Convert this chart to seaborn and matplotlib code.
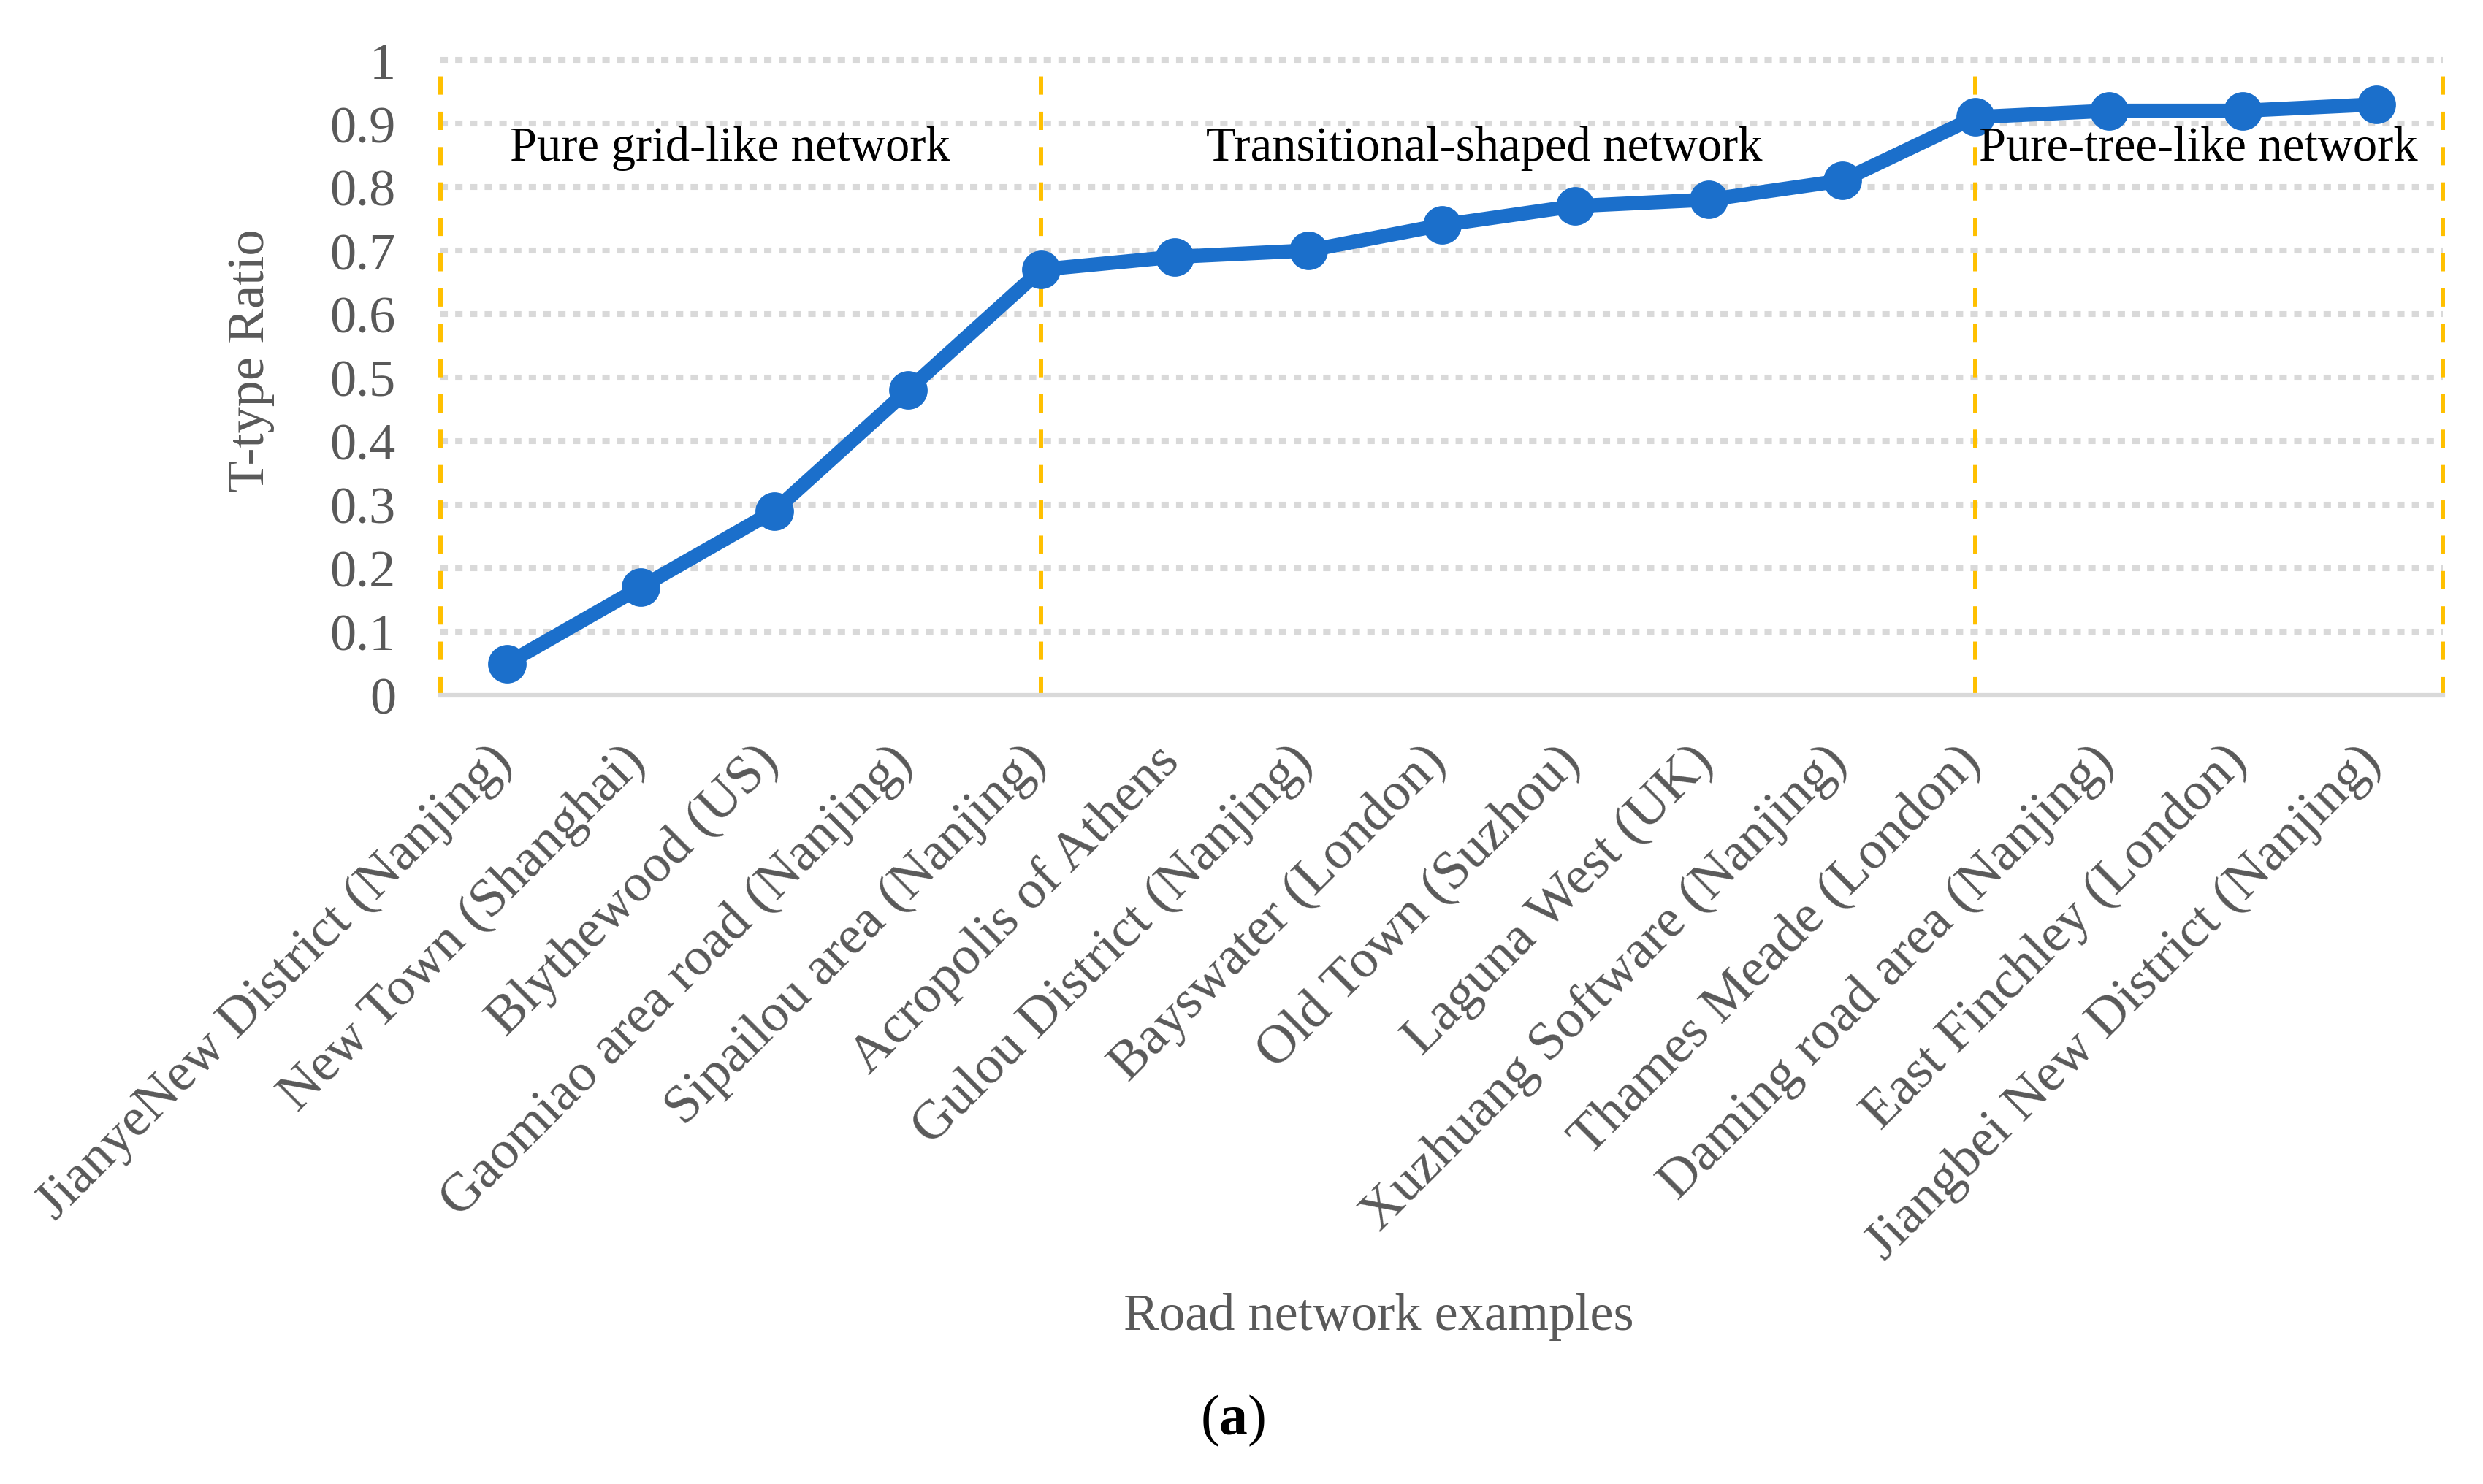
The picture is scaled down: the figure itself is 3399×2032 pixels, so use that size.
import matplotlib
matplotlib.use("Agg")
import matplotlib.pyplot as plt
import matplotlib.transforms as mtransforms
import seaborn as sns
import pandas as pd

# road network examples and their T-type ratios
exemplos = [
    "JianyeNew District (Nanjing)",
    "New Town (Shanghai)",
    "Blythewood (US)",
    "Gaomiao area road (Nanjing)",
    "Sipailou area (Nanjing)",
    "Acropolis of Athens",
    "Gulou District (Nanjing)",
    "Bayswater (London)",
    "Old Town (Suzhou)",
    "Laguna West (UK)",
    "Xuzhuang Software (Nanjing)",
    "Thames Meade (London)",
    "Daming road area (Nanjing)",
    "East Finchley (London)",
    "Jiangbei New District (Nanjing)",
]
razao_t = [0.05, 0.17, 0.29, 0.48, 0.67, 0.69, 0.70, 0.74, 0.77, 0.78,
           0.81, 0.91, 0.92, 0.92, 0.93]

# category boundaries of the three network types
limites = [-0.5, 4, 11, 14.5]
grupos = ["Pure grid-like network", "Transitional-shaped network", "Pure-tree-like network"]
grupos_x = [1.67, 7.32, 12.67]
y_ticks = [0, 0.1, 0.2, 0.3, 0.4, 0.5, 0.6, 0.7, 0.8, 0.9, 1]

df = pd.DataFrame({"x": range(len(exemplos)), "ratio": razao_t})

sns.set_style("white")
plt.rcParams["font.family"] = ["Liberation Serif", "DejaVu Serif"]
plt.rcParams["mathtext.fontset"] = "custom"
plt.rcParams["mathtext.rm"] = "Liberation Serif"
plt.rcParams["mathtext.bf"] = "Liberation Serif:bold"

cinza = "#595959"
azul = "#1B6FCB"

fig = plt.figure(figsize=(33.99, 20.33), dpi=100)
ax = fig.add_axes([603 / 3399, 1 - 953 / 2033, (3344 - 603) / 3399, (953 - 83) / 2033])

for y in y_ticks[1:]:
    ax.axhline(y, color="#D9D9D9", lw=5.8, ls=(0, (1.25, 1.25)), zorder=1, clip_on=False)
for xv in limites:
    ax.axvline(xv, color="#FFC000", lw=4.3, ls=(0, (4.2, 3.9)), zorder=2, clip_on=False)

sns.lineplot(data=df, x="x", y="ratio", ax=ax, color=azul, lw=14,
             marker="o", markersize=38, markeredgewidth=0, zorder=3)

ax.set_xlim(-0.5, 14.5)
ax.set_ylim(0, 1)
ax.set_yticks(y_ticks)
ax.set_yticklabels([f"{v:g}" for v in y_ticks])
ax.set_xticks(range(len(exemplos)))
ax.set_xticklabels(exemplos, rotation=45, ha="right")
ax.tick_params(axis="both", length=0, colors=cinza)
ax.tick_params(axis="y", pad=44, labelsize=52)
ax.tick_params(axis="x", pad=40, labelsize=54)
desloc = mtransforms.ScaledTranslation(20 / 100, 0, fig.dpi_scale_trans)
for lbl in ax.get_xticklabels():
    lbl.set_transform(lbl.get_transform() + desloc)

for s in ["left", "right", "top"]:
    ax.spines[s].set_visible(False)
ax.spines["bottom"].set_color("#D9D9D9")
ax.spines["bottom"].set_linewidth(4.5)

for nome, gx in zip(grupos, grupos_x):
    ax.text(gx, 0.862, nome, ha="center", va="center", fontsize=48, color="black", zorder=4)

ax.set_xlabel("")
ax.set_ylabel("")
ax.text((343 - 603) / 2741, (953 - 494) / 870, "T-type Ratio", transform=ax.transAxes,
        rotation=90, ha="center", va="center", fontsize=52, color=cinza)
ax.text((1887 - 603) / 2741, (953 - 1803) / 870, "Road network examples",
        transform=ax.transAxes, ha="center", va="center", fontsize=52, color=cinza)
fig.text(1688 / 3399, 1 - 1945 / 2033, "(" + r"$\mathbf{a}$" + ")", ha="center", va="center",
         fontsize=56, color="black")

fig.savefig("out.png", dpi=100, facecolor="white")
